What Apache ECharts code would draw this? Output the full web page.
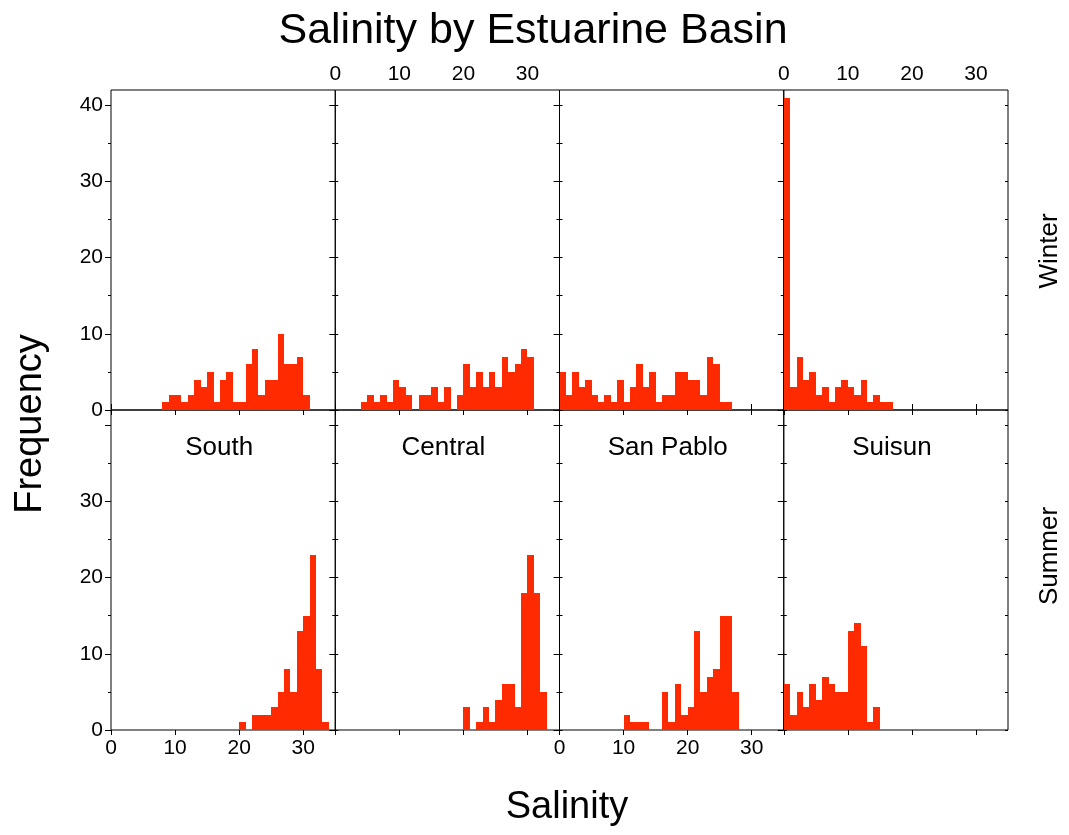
<!DOCTYPE html>
<html>
<head>
<meta charset="utf-8">
<title>Salinity by Estuarine Basin</title>
<script src="https://cdn.jsdelivr.net/npm/echarts@6/dist/echarts.min.js"></script>
<style>
  html, body { margin: 0; padding: 0; background: #fff; }
  #main { width: 1069px; height: 835px; }
</style>
</head>
<body>
<div id="main"></div>
<script>
(function() {
    'use strict';

    var basins = ['South', 'Central', 'San Pablo', 'Suisun'];
    var seasons = ['Winter', 'Summer'];

    // histogram counts, 1-unit salinity bins; *Start = lower edge of first bin
    var southWinterStart = 8;
    var southWinter = [1, 2, 2, 1, 2, 4, 3, 5, 1, 4, 5, 1, 1, 6, 8, 2, 4, 4, 10, 6, 6, 7, 2];
    var centralWinterStart = 4;
    var centralWinter = [1, 2, 1, 2, 1, 4, 3, 2, 0, 2, 2, 3, 1, 3, 0, 2, 6, 3, 5, 3, 5, 3, 7, 5, 6, 8, 7];
    var sanPabloWinterStart = 0;
    var sanPabloWinter = [5, 2, 5, 3, 4, 2, 1, 2, 1, 4, 1, 3, 6, 3, 5, 1, 2, 2, 5, 5, 4, 4, 2, 7, 6, 1, 1];
    var suisunWinterStart = 0;
    var suisunWinter = [41, 3, 7, 4, 5, 2, 3, 1, 3, 4, 3, 2, 4, 1, 2, 1, 1];

    var southSummerStart = 20;
    var southSummer = [1, 0, 2, 2, 2, 3, 5, 8, 5, 13, 15, 23, 8, 1];
    var centralSummerStart = 20;
    var centralSummer = [3, 0, 1, 3, 1, 4, 6, 6, 3, 18, 23, 18, 5];
    var sanPabloSummerStart = 10;
    var sanPabloSummer = [2, 1, 1, 1, 0, 0, 5, 1, 6, 2, 3, 13, 5, 7, 8, 15, 15, 5];
    var suisunSummerStart = 0;
    var suisunSummer = [6, 2, 5, 3, 6, 4, 7, 6, 5, 5, 13, 14, 11, 1, 3];

    var xTicks = [0, 10, 20, 30];
    var yMajor = [0, 10, 20, 30, 40];
    var yMinor = [5, 15, 25, 35];
    var yAll = [0, 5, 10, 15, 20, 25, 30, 35, 40];

    var panels = [
        [[southWinterStart, southWinter], [centralWinterStart, centralWinter],
         [sanPabloWinterStart, sanPabloWinter], [suisunWinterStart, suisunWinter]],
        [[southSummerStart, southSummer], [centralSummerStart, centralSummer],
         [sanPabloSummerStart, sanPabloSummer], [suisunSummerStart, suisunSummer]]
    ];

    var font = 'Liberation Sans, Arial, sans-serif';
    var barColor = '#ff2a00';
    var lefts = [111, 335.25, 559.5, 783.75];
    var colW = 224.25;
    var tops = [90, 410];
    var rowH = 320;

    function toBins(start, counts) {
        return counts.map(function(c, i) { return [start + i, start + i + 1, c]; });
    }

    // snap bin edges to whole pixels so neighbouring bars touch
    function renderBin(params, api) {
        if (!api.value(2)) { return null; }
        var lo = api.coord([api.value(0), api.value(2)]);
        var hi = api.coord([api.value(1), 0]);
        var x0 = Math.round(lo[0]), x1 = Math.round(hi[0]);
        var y0 = Math.round(lo[1]), y1 = Math.round(hi[1]);
        return {
            type: 'rect',
            shape: { x: x0, y: y0, width: x1 - x0, height: y1 - y0 },
            style: { fill: barColor }
        };
    }

    var grid = [], xAxis = [], yAxis = [], series = [], graphic = [];
    var labelStyle = { color: '#000', fontSize: 21, fontFamily: font };

    panels.forEach(function(row, r) {
        row.forEach(function(p, c) {
            var gi = grid.length;
            grid.push({
                left: lefts[c], top: tops[r], width: colW, height: rowH,
                show: true, borderColor: '#000', borderWidth: 1, backgroundColor: 'transparent'
            });
            xAxis.push({
                gridIndex: gi, type: 'value', min: 0, max: 35, position: 'bottom',
                axisLine: { show: false }, splitLine: { show: false },
                axisTick: { show: true, length: 5, customValues: xTicks, lineStyle: { color: '#000' } },
                axisLabel: Object.assign({ show: r === 1 && (c === 0 || c === 2), margin: 8, customValues: xTicks }, labelStyle)
            });
            var topX = xAxis.length;
            if (r === 0) {
                xAxis.push({
                    gridIndex: gi, type: 'value', min: 0, max: 35, position: 'top',
                    axisLine: { show: false }, splitLine: { show: false },
                    axisTick: { show: true, length: 6, customValues: xTicks, lineStyle: { color: '#000' } },
                    axisLabel: Object.assign({ show: c === 1 || c === 3, margin: 5, customValues: xTicks }, labelStyle)
                });
            }
            var yi = yAxis.length;
            yAxis.push({
                gridIndex: gi, type: 'value', min: 0, max: 42, position: 'left',
                axisLine: { show: false }, splitLine: { show: false },
                axisTick: { show: true, length: 6, customValues: yMajor, lineStyle: { color: '#000' } },
                axisLabel: Object.assign({
                    show: c === 0, margin: 8,
                    customValues: r === 0 ? yMajor : [0, 10, 20, 30]
                }, labelStyle)
            });
            yAxis.push({
                gridIndex: gi, type: 'value', min: 0, max: 42, position: 'left', offset: 0,
                axisLine: { show: false }, splitLine: { show: false }, axisLabel: { show: false },
                axisTick: { show: true, length: 3, customValues: yMinor, lineStyle: { color: '#000' } }
            });
            yAxis.push({
                gridIndex: gi, type: 'value', min: 0, max: 42, position: 'right',
                axisLine: { show: false }, splitLine: { show: false }, axisLabel: { show: false },
                axisTick: { show: true, length: 3, inside: c === 3, customValues: yAll, lineStyle: { color: '#000' } }
            });
            series.push({
                type: 'custom',
                xAxisIndex: topX - 1,
                yAxisIndex: yi,
                renderItem: renderBin,
                encode: { x: [0, 1], y: 2 },
                data: toBins(p[0], p[1]),
                silent: true
            });
        });
    });

    basins.forEach(function(name, c) {
        graphic.push({
            type: 'text', x: lefts[c] + colW / 2 - 4, y: 448,
            style: { text: name, textAlign: 'center', textVerticalAlign: 'middle', font: '26px ' + font, fill: '#000' }
        });
    });

    var seasonY = [251, 556];
    seasons.forEach(function(name, r) {
        graphic.push({
            type: 'text', x: 1050, y: seasonY[r], rotation: Math.PI / 2,
            style: { text: name, textAlign: 'center', textVerticalAlign: 'middle', font: '26px ' + font, fill: '#000' }
        });
    });

    graphic.push({
        type: 'text', x: 533, y: 31,
        style: { text: 'Salinity by Estuarine Basin', textAlign: 'center', textVerticalAlign: 'middle', font: '43px ' + font, fill: '#000' }
    });
    graphic.push({
        type: 'text', x: 31, y: 424, rotation: Math.PI / 2,
        style: { text: 'Frequency', textAlign: 'center', textVerticalAlign: 'middle', font: '38px ' + font, fill: '#000' }
    });
    graphic.push({
        type: 'text', x: 567, y: 808,
        style: { text: 'Salinity', textAlign: 'center', textVerticalAlign: 'middle', font: '38px ' + font, fill: '#000' }
    });

    var myChart = echarts.init(document.getElementById('main'), null, { renderer: 'canvas' });
    myChart.setOption({
        backgroundColor: '#fff',
        animation: false,
        grid: grid,
        xAxis: xAxis,
        yAxis: yAxis,
        series: series,
        graphic: graphic
    });
})();
</script>
</body>
</html>
